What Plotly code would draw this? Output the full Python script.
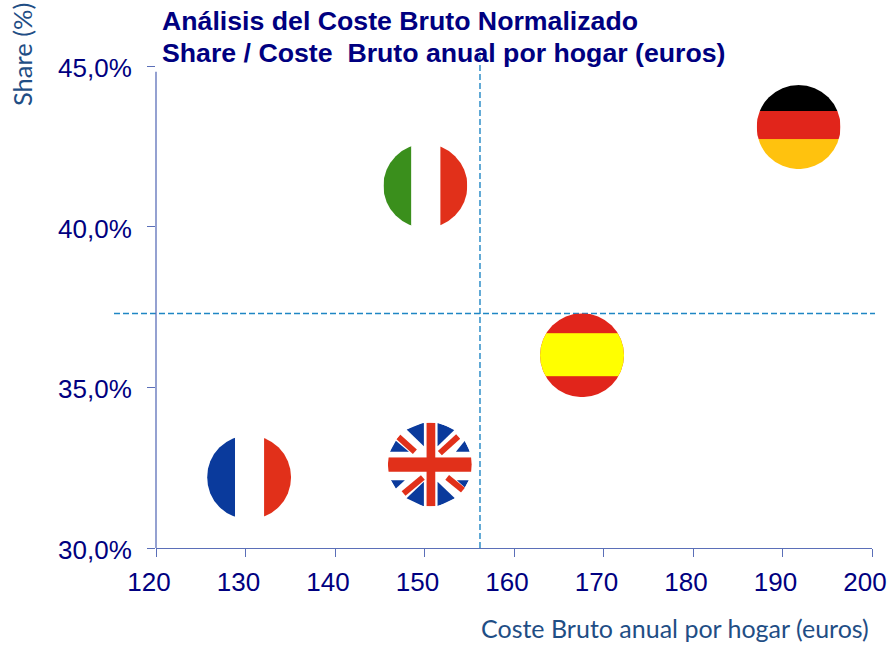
import base64
import plotly.graph_objects as go

# ---- data ----
countries = ["Alemania", "Italia", "España", "Reino Unido", "Francia"]
coste = [191.8, 150.1, 167.6, 150.6, 130.4]
share = [43.1, 41.27, 36.0, 32.6, 32.2]
base_colors = ["#e1251b", "#ffffff", "#ffff00", "#e1301a", "#ffffff"]

x_ticks = [120, 130, 140, 150, 160, 170, 180, 190, 200]
y_ticks = [30, 35, 40, 45]
y_labels = ["30,0%", "35,0%", "40,0%", "45,0%"]
media_coste = 156.2
media_share = 37.3

title_lines = ["Análisis del Coste Bruto Normalizado",
               "Share / Coste  Bruto anual por hogar (euros)"]
x_title = "Coste Bruto anual por hogar (euros)"
y_title = "Share (%)"

NAVY = "#000080"
AXIS = "#5b6fb8"
DASH = "#1f86c4"
LABEL = "#1f4e85"

# ---- layout geometry ----
W, H = 890, 646
L, R, T, B = 156, 872, 66, 548
pw, ph = R - L, B - T
FLAG_PX = 84


def stripes_v(a, b, c):
    return (f'<rect x="0" y="0" width="28" height="84" fill="{a}"/>'
            f'<rect x="28" y="0" width="29" height="84" fill="{b}"/>'
            f'<rect x="57" y="0" width="27" height="84" fill="{c}"/>')


GERMANY = ('<rect width="84" height="26" fill="#000000"/>'
           '<rect y="26" width="84" height="28" fill="#e1251b"/>'
           '<rect y="54" width="84" height="30" fill="#ffc20e"/>')
SPAIN = ('<rect width="84" height="84" fill="#e1251b"/>'
         '<rect y="20" width="84" height="43" fill="#ffff00"/>')
UK_BLUE = ["36,0 18.7,7 36,23.7", "2,29.3 8,18.3 21,29.3",
           "49.7,0 67,7 49.7,23.7", "82,29.3 77,18.3 68,29.3",
           "3,57.7 17,57.7 8,66", "81,57.7 69,57.7 77,65",
           "36,59.3 36,84 18.7,75.7", "49.7,59.3 49.7,84 67,75.7"]
UK_DIAG = [(10.3, 14.3, 27, 29.3), (70.3, 14, 52, 30.7),
           (15.7, 71, 35, 55), (59.3, 55, 76.3, 68.7)]
UK = ('<rect width="84" height="84" fill="#ffffff"/>'
      + "".join(f'<polygon points="{p}" fill="#0a3a9c"/>' for p in UK_BLUE)
      + "".join(f'<line x1="{a}" y1="{b}" x2="{c}" y2="{d}" stroke="#e1301a" stroke-width="6"/>'
                for a, b, c, d in UK_DIAG)
      + '<rect x="38.7" width="8.7" height="84" fill="#e1301a"/>'
        '<rect y="35" width="84" height="14.3" fill="#e1301a"/>')
flag_art = [GERMANY, stripes_v("#3a8f1c", "#ffffff", "#e1301a"), SPAIN, UK,
            stripes_v("#0a3a9c", "#ffffff", "#e1301a")]


def flag_uri(body):
    svg = ('<svg xmlns="http://www.w3.org/2000/svg" viewBox="0 0 84 84" width="168" height="168">'
           '<defs><clipPath id="c"><circle cx="42" cy="42" r="42"/></clipPath></defs>'
           f'<g clip-path="url(#c)">{body}</g></svg>')
    return "data:image/svg+xml;base64," + base64.b64encode(svg.encode()).decode()


x_range = [x_ticks[0], x_ticks[-1]]
y_range = [y_ticks[0], y_ticks[-1]]
sizex = FLAG_PX * (x_range[1] - x_range[0]) / pw
sizey = FLAG_PX * (y_range[1] - y_range[0]) / ph

fig = go.Figure()
fig.add_trace(go.Scatter(
    x=coste, y=share, mode="markers", text=countries, hoverinfo="text",
    marker=dict(size=FLAG_PX - 2, color=base_colors, line=dict(width=0)),
    cliponaxis=False, showlegend=False))

images = [dict(source=flag_uri(art), xref="x", yref="y", x=cx, y=cy,
               sizex=sizex, sizey=sizey, xanchor="center", yanchor="middle",
               sizing="stretch", layer="above")
          for art, cx, cy in zip(flag_art, coste, share)]


def px(v):
    return (v - L) / pw


def py(v):
    return (B - v) / ph


shapes = [
    dict(type="line", xref="paper", x0=px(114), x1=px(875), yref="y",
         y0=media_share, y1=media_share, line=dict(color=DASH, width=1.4, dash="6px,3px"), layer="below"),
    dict(type="line", xref="x", x0=media_coste, x1=media_coste, yref="paper",
         y0=0, y1=py(52), line=dict(color=DASH, width=1.4, dash="6px,3px"), layer="below"),
    dict(type="line", xref="paper", x0=0, x1=0, yref="y", y0=y_ticks[0], y1=44.82,
         line=dict(color=AXIS, width=1.3), layer="below"),
]

annotations = [
    dict(text=f"<b>{title_lines[0]}</b>", xref="paper", yref="paper", x=px(160), y=py(21),
         xanchor="left", yanchor="middle", showarrow=False, font=dict(family="Liberation Sans", size=26.7, color=NAVY)),
    dict(text=f"<b>{title_lines[1]}</b>", xref="paper", yref="paper", x=px(160), y=py(53),
         xanchor="left", yanchor="middle", showarrow=False, font=dict(family="Liberation Sans", size=26.7, color=NAVY)),
    dict(text=x_title, xref="paper", yref="paper", x=px(871), y=py(628),
         xanchor="right", yanchor="middle", showarrow=False, font=dict(family="Lato", size=25, color=LABEL)),
    dict(text=y_title, xref="paper", yref="paper", x=px(22), y=py(55), textangle=-90,
         xanchor="center", yanchor="middle", showarrow=False, font=dict(family="Lato", size=25.5, color=LABEL)),
]

fig.update_layout(
    width=W, height=H, autosize=False,
    margin=dict(l=L, r=W - R, t=T, b=H - B, pad=0, autoexpand=False),
    paper_bgcolor="white", plot_bgcolor="white",
    images=images, shapes=shapes, annotations=annotations,
    font=dict(family="Liberation Sans", color=NAVY),
    xaxis=dict(range=x_range, tickvals=x_ticks, ticks="outside", ticklen=8, tickwidth=1.3,
               tickcolor=AXIS, showline=True, linecolor=AXIS, linewidth=1.3, showgrid=False,
               zeroline=False, tickfont=dict(size=26, color=NAVY), fixedrange=True,
               automargin=False, ticklabelshift=-7, ticklabelstandoff=3),
    yaxis=dict(range=y_range, tickvals=y_ticks, ticktext=y_labels, ticks="outside", ticklen=8,
               tickwidth=1.3, tickcolor=AXIS, showline=False, showgrid=False, zeroline=False,
               tickfont=dict(size=26, color=NAVY), fixedrange=True, automargin=False,
               ticklabelshift=2, ticklabelstandoff=10),
)

fig.write_html("out.html", config={"displayModeBar": False},
               post_script="document.body.style.margin='0';")
